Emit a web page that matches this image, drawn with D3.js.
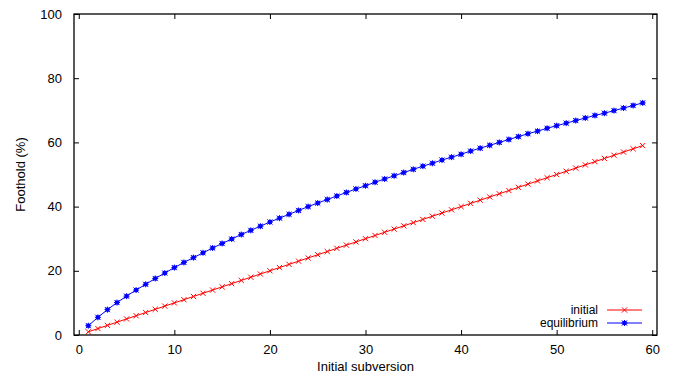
<!DOCTYPE html>
<html><head><meta charset="utf-8">
<script src="https://cdn.jsdelivr.net/npm/d3@7"></script>
<style>body{margin:0;background:#fff}svg{display:block}text{font-family:"Liberation Sans",Arial,sans-serif;font-size:13px;fill:#000}</style>
</head><body>
<script>
const xValues = [1,2,3,4,5,6,7,8,9,10,11,12,13,14,15,16,17,18,19,20,21,22,23,24,25,26,27,28,29,30,31,32,33,34,35,36,37,38,39,40,41,42,43,44,45,46,47,48,49,50,51,52,53,54,55,56,57,58,59];
const initialValues = [1,2,3,4,5,6,7,8,9,10,11,12,13,14,15,16,17,18,19,20,21,22,23,24,25,26,27,28,29,30,31,32,33,34,35,36,37,38,39,40,41,42,43,44,45,46,47,48,49,50,51,52,53,54,55,56,57,58,59];
const equilibriumValues = [2.9,5.5,7.9,10.1,12.1,14.0,15.8,17.6,19.3,21.0,22.6,24.1,25.6,27.1,28.5,29.9,31.3,32.6,33.9,35.2,36.4,37.6,38.8,40.0,41.1,42.2,43.3,44.4,45.5,46.5,47.6,48.6,49.6,50.6,51.6,52.6,53.5,54.5,55.4,56.3,57.3,58.2,59.1,60.0,60.9,61.8,62.7,63.5,64.4,65.2,66.0,66.8,67.6,68.4,69.1,69.9,70.7,71.5,72.3];
const xTicks = [0,10,20,30,40,50,60];
const yTicks = [0,20,40,60,80,100];
const seriesNames = ["initial","equilibrium"];
const seriesColors = ["#ff0000","#0000ff"];

const W = 679, H = 377;
const L = 74, R = 657, T = 14, B = 335;
const svg = d3.select("body").append("svg").attr("width", W).attr("height", H);
const x = d3.scaleLinear().domain([-0.5, 60.5]).range([L, R]);
const y = d3.scaleLinear().domain([0, 100]).range([B, T]);

// axes with inward ticks
const tk = 5;
svg.append("g").attr("transform", `translate(0,${B})`)
  .call(d3.axisBottom(x).tickValues(xTicks).tickSizeInner(-tk).tickSizeOuter(0).tickPadding(10))
  .call(g => g.select(".domain").remove());
svg.append("g").attr("transform", `translate(0,${T})`)
  .call(d3.axisTop(x).tickValues(xTicks).tickSizeInner(-tk).tickSizeOuter(0).tickFormat(""))
  .call(g => g.select(".domain").remove());
svg.append("g").attr("transform", `translate(${L},0)`)
  .call(d3.axisLeft(y).tickValues(yTicks).tickSizeInner(-tk).tickSizeOuter(0).tickPadding(12))
  .call(g => g.select(".domain").remove());
svg.append("g").attr("transform", `translate(${R},0)`)
  .call(d3.axisRight(y).tickValues(yTicks).tickSizeInner(-tk).tickSizeOuter(0).tickFormat(""))
  .call(g => g.select(".domain").remove());
svg.selectAll(".tick line").attr("stroke", "#000").attr("stroke-width", 1);
svg.selectAll(".tick text").style("font-size", "13px").attr("fill", "#000");

svg.append("rect").attr("x", L).attr("y", T).attr("width", R - L).attr("height", B - T)
  .attr("fill", "none").attr("stroke", "#000").attr("stroke-width", 1.3);

const data = [
  xValues.map((v, i) => ({x: v, y: initialValues[i]})),
  xValues.map((v, i) => ({x: v, y: equilibriumValues[i]}))
];

function marker(g, cx, cy, k, color) {
  const s = 2.6;
  g.append("path").attr("d", `M${cx-s},${cy-s}L${cx+s},${cy+s}M${cx-s},${cy+s}L${cx+s},${cy-s}`)
    .attr("stroke", color).attr("stroke-width", 1).attr("fill", "none");
  if (k === 1) {
    g.append("path").attr("d", `M${cx-s-0.4},${cy}L${cx+s+0.4},${cy}M${cx},${cy-s-0.4}L${cx},${cy+s+0.4}`)
      .attr("stroke", color).attr("stroke-width", 1).attr("fill", "none");
    g.append("rect").attr("x", cx-2).attr("y", cy-2).attr("width", 4).attr("height", 4).attr("fill", color);
  }
}

const line = d3.line().x(d => x(d.x)).y(d => y(d.y));
data.forEach((ser, k) => {
  const g = svg.append("g");
  g.append("path").datum(ser).attr("d", line).attr("fill", "none")
    .attr("stroke", seriesColors[k]).attr("stroke-width", 1);
  ser.forEach(d => marker(g, x(d.x), y(d.y), k, seriesColors[k]));
});

// legend
seriesNames.forEach((name, k) => {
  const ly = 310 + k * 13;
  const g = svg.append("g");
  g.append("text").attr("x", 598).attr("y", ly).attr("dy", "0.35em").attr("text-anchor", "end")
    .style("font-size", "12px").text(name);
  g.append("line").attr("x1", 607).attr("x2", 642).attr("y1", ly).attr("y2", ly)
    .attr("stroke", seriesColors[k]).attr("stroke-width", 1.2);
  marker(g, 624.5, ly, k, seriesColors[k]);
});

svg.append("text").attr("x", (L + R) / 2).attr("y", 371).attr("text-anchor", "middle").text("Initial subversion");
svg.append("text").attr("transform", `translate(25,${(T + B) / 2}) rotate(-90)`).attr("text-anchor", "middle").text("Foothold (%)");
</script>
</body></html>
